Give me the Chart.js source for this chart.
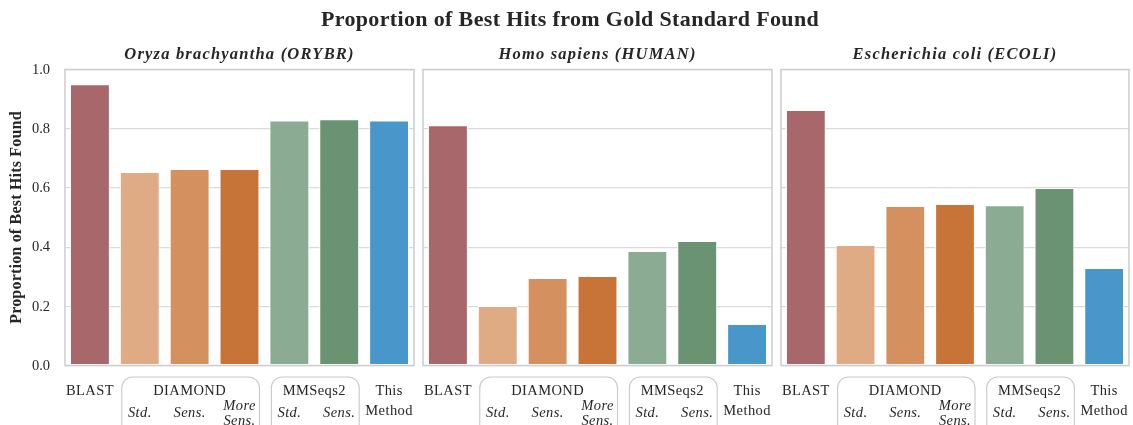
<!DOCTYPE html>
<html>
<head>
<meta charset="utf-8">
<script src="https://cdn.jsdelivr.net/npm/chart.js@4.4.1/dist/chart.umd.min.js"></script>
<style>
  html, body { margin: 0; padding: 0; background: #ffffff; }
  #figure { position: relative; width: 1133px; height: 425px; overflow: hidden; background: #ffffff; }
  #figure canvas { position: absolute; left: 0; top: 0; }
</style>
</head>
<body>
<div id="figure">
  <canvas id="panel0" width="1133" height="425"></canvas>
  <canvas id="panel1" width="1133" height="425"></canvas>
  <canvas id="panel2" width="1133" height="425"></canvas>
</div>
<script>
// ---- data -------------------------------------------------------------
const figureTitle = 'Proportion of Best Hits from Gold Standard Found';
const yAxisTitle = 'Proportion of Best Hits Found';
const speciesTitles = ['Oryza brachyantha (ORYBR)', 'Homo sapiens (HUMAN)', 'Escherichia coli (ECOLI)'];
const methods = ['BLAST', 'DIAMOND Std.', 'DIAMOND Sens.', 'DIAMOND More Sens.', 'MMSeqs2 Std.', 'MMSeqs2 Sens.', 'This Method'];
const orybrValues = [0.950, 0.654, 0.664, 0.664, 0.828, 0.832, 0.828];
const humanValues = [0.812, 0.201, 0.296, 0.302, 0.387, 0.421, 0.140];
const ecoliValues = [0.863, 0.407, 0.539, 0.546, 0.541, 0.600, 0.329];
const yTickValues = [0.0, 0.2, 0.4, 0.6, 0.8, 1.0];

// x-axis label layout: standalone tools, grouped tools and their modes
const singleLabels = [{ at: 0, lines: ['BLAST'] }, { at: 6, lines: ['This', 'Method'] }];
const groupLabels = [{ name: 'DIAMOND', from: 1, to: 3 }, { name: 'MMSeqs2', from: 4, to: 5 }];
const modeLabels = [[], ['Std.'], ['Sens.'], ['More', 'Sens.'], ['Std.'], ['Sens.'], []];

const barColors = ['#a8686b', '#dfab85', '#d4905e', '#c87338', '#8bab92', '#6a9374', '#4896ca'];

// ---- styling ----------------------------------------------------------
const SERIF = '"Liberation Serif", "DejaVu Serif", serif';
const INK = '#262626';
const FRAME = '#cdcdcd';
const GRID = '#dadada';
const panelSpans = [[65, 414], [423, 772], [781, 1129]];
const PLOT_TOP = 69.5, PLOT_BOTTOM = 365.5;
const W = 1133, H = 425;

function setFont(ctx, font, spacing) {
  ctx.font = font;
  if ('letterSpacing' in ctx) ctx.letterSpacing = spacing;
}

function annotate(panelIndex) {
  return {
    id: 'annotate' + panelIndex,
    afterDatasetsDraw(chart) {
      const { ctx, chartArea: a } = chart;
      ctx.save();
      ctx.strokeStyle = FRAME;
      ctx.lineWidth = 1.5;
      ctx.strokeRect(a.left, a.top, a.right - a.left, a.bottom - a.top);
      ctx.restore();
    },
    afterDraw(chart) {
      const { ctx, chartArea: a } = chart;
      const xs = chart.scales.x, ys = chart.scales.y;
      const px = i => xs.getPixelForValue(i);
      ctx.save();
      ctx.fillStyle = INK;
      ctx.textBaseline = 'middle';
      ctx.textAlign = 'center';

      // panel heading
      setFont(ctx, 'italic bold 16.5px ' + SERIF, '1.2px');
      ctx.fillText(speciesTitles[panelIndex], (a.left + a.right) / 2, 55);

      if (panelIndex === 0) {
        setFont(ctx, 'bold 22px ' + SERIF, '0.35px');
        ctx.fillText(figureTitle, 570, 20);

        ctx.save();
        ctx.translate(17, (a.top + a.bottom) / 2);
        ctx.rotate(-Math.PI / 2);
        setFont(ctx, 'bold 16px ' + SERIF, '0.2px');
        ctx.fillText(yAxisTitle, 0, 0);
        ctx.restore();

        ctx.textAlign = 'right';
        setFont(ctx, '14.5px ' + SERIF, '0px');
        yTickValues.forEach(v => ctx.fillText(v.toFixed(1), a.left - 15, ys.getPixelForValue(v) + 0.5));
        ctx.textAlign = 'center';
      }

      // standalone tool names
      setFont(ctx, '14.5px ' + SERIF, '0.4px');
      singleLabels.forEach(s => {
        s.lines.forEach((ln, k) => ctx.fillText(ln, px(s.at), 391.5 + k * 20));
      });

      // grouped tool names with rounded outline
      groupLabels.forEach(g => {
        const l = px(g.from) - 18, r = px(g.to) + 20;
        ctx.save();
        ctx.strokeStyle = '#c9c9c9';
        ctx.lineWidth = 1.1;
        ctx.beginPath();
        ctx.roundRect(l, 377, r - l, 70, 11);
        ctx.stroke();
        ctx.restore();
        ctx.fillText(g.name, (px(g.from) + px(g.to)) / 2, 391.5);
      });

      // search modes
      setFont(ctx, 'italic 14.5px ' + SERIF, '0.4px');
      modeLabels.forEach((lines, i) => {
        if (lines.length === 1) ctx.fillText(lines[0], px(i), 413);
        else lines.forEach((ln, k) => ctx.fillText(ln, px(i), 406.5 + k * 14.5));
      });
      ctx.restore();
    }
  };
}

function makePanel(panelIndex, values) {
  const [left, right] = panelSpans[panelIndex];
  return new Chart(document.getElementById('panel' + panelIndex), {
    type: 'bar',
    data: {
      labels: methods,
      datasets: [{
        data: values,
        backgroundColor: barColors,
        borderColor: '#ffffff',
        borderWidth: 1,
        borderSkipped: false,
        barPercentage: 0.8,
        categoryPercentage: 1.0
      }]
    },
    options: {
      responsive: false,
      animation: false,
      devicePixelRatio: 1,
      layout: { padding: { left: left, right: W - right, top: PLOT_TOP, bottom: H - PLOT_BOTTOM } },
      plugins: { legend: { display: false }, tooltip: { enabled: false }, title: { display: false } },
      scales: {
        x: {
          type: 'category',
          offset: true,
          grid: { display: false },
          border: { display: false },
          ticks: { display: false },
          afterFit(s) { s.height = 0; }
        },
        y: {
          min: 0,
          max: 1,
          grid: { color: GRID, lineWidth: 1.2, drawTicks: false },
          border: { display: false },
          ticks: { display: false, stepSize: 0.2 },
          afterFit(s) { s.width = 0; }
        }
      }
    },
    plugins: [annotate(panelIndex)]
  });
}

makePanel(0, orybrValues);
makePanel(1, humanValues);
makePanel(2, ecoliValues);
</script>
</body>
</html>
